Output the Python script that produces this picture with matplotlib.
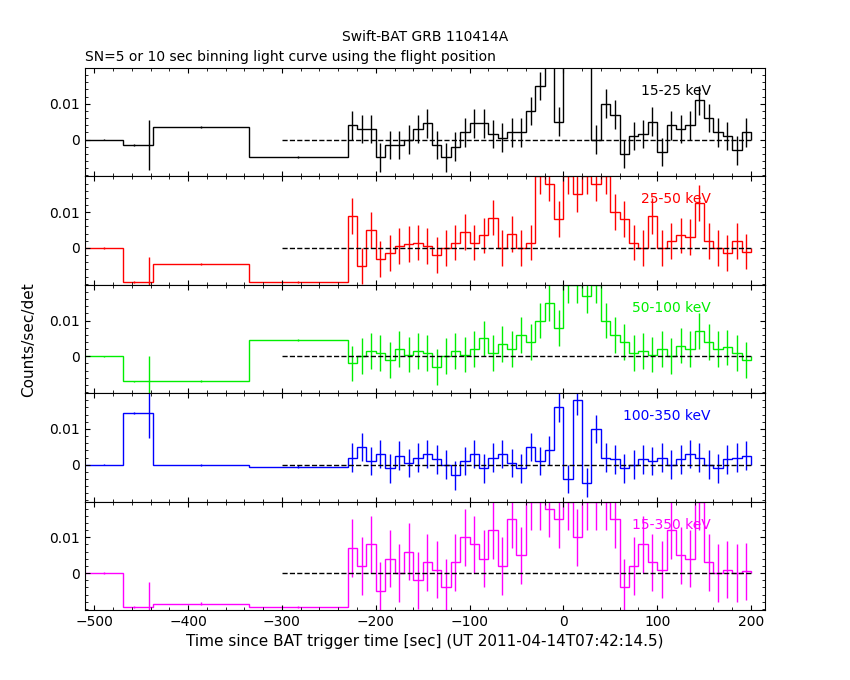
import numpy as np
import matplotlib
matplotlib.use("Agg")
import matplotlib.pyplot as plt

# bin edges: coarse pre-trigger bins, then 10 s bins
early_edges = [-510, -470, -445, -438, -335, -230]
fine_edges = list(range(-230, 201, 10))
edges = np.array(early_edges[:-1] + fine_edges)

band_labels = ["15-25 keV", "25-50 keV", "50-100 keV", "100-350 keV", "15-350 keV"]
band_colors = ["black", "red", "#00ee00", "blue", "magenta"]

rate_15_25 = [0.0, -0.0015, -0.0015, 0.0035, -0.0048,
              0.004, 0.003, 0.003, -0.005, -0.0015, -0.0015, 0.0, 0.003, 0.0045, -0.0015,
              -0.005, -0.002, 0.002, 0.0045, 0.0045, 0.0015, 0.0005, 0.002, 0.002, 0.008,
              0.015, 0.025, 0.005, 0.025, 0.025, 0.025, 0.0, 0.01, 0.007, -0.004,
              0.001, 0.0015, 0.005, -0.0035, 0.004, 0.003, 0.004, 0.011, 0.006, 0.002,
              0.001, -0.003, 0.002]
rate_25_50 = [0.0, -0.0095, -0.0095, -0.0045, -0.0095,
              0.009, -0.005, 0.005, -0.003, -0.0015, 0.0005, 0.001, 0.0015, 0.0005, -0.002,
              0.0, 0.0015, 0.0045, 0.0015, 0.0035, 0.0085, 0.0, 0.004, 0.0, 0.0015,
              0.02, 0.018, 0.008, 0.02, 0.015, 0.02, 0.018, 0.02, 0.01, 0.008,
              0.0015, 0.0, 0.009, 0.0, 0.002, 0.0035, 0.003, 0.0125, 0.002, 0.0,
              -0.0015, 0.002, -0.001]
rate_50_100 = [0.0, -0.007, -0.007, -0.007, 0.0045,
               -0.002, 0.0, 0.0015, 0.001, -0.001, 0.002, 0.0005, 0.0015, 0.001, -0.003,
               0.0, 0.0015, 0.0005, 0.002, 0.005, 0.001, 0.0035, 0.002, 0.006, 0.004,
               0.01, 0.015, 0.008, 0.02, 0.02, 0.017, 0.02, 0.01, 0.006, 0.004,
               0.001, 0.0015, 0.0005, 0.002, 0.0, 0.003, 0.002, 0.007, 0.004, 0.002,
               0.0025, 0.001, -0.001]
rate_100_350 = [0.0, 0.0145, 0.0145, 0.0, -0.0005,
                0.002, 0.005, 0.001, 0.003, -0.001, 0.0025, 0.0005, 0.002, 0.003, 0.0015,
                0.0, -0.003, 0.001, 0.003, -0.001, 0.002, 0.003, 0.0005, -0.001, 0.005,
                0.001, 0.004, 0.016, -0.004, 0.018, -0.005, 0.01, 0.002, 0.0015, -0.001,
                0.0, 0.0015, 0.001, 0.002, 0.0, 0.0015, 0.003, 0.002, 0.0, -0.001,
                0.0015, 0.002, 0.0025]
rate_15_350 = [0.0, -0.0095, -0.0095, -0.0085, -0.0095,
               0.007, 0.002, 0.008, -0.005, 0.004, 0.0, 0.006, -0.002, 0.003, 0.001,
               -0.004, 0.003, 0.01, 0.008, 0.004, 0.012, 0.002, 0.015, 0.005, 0.02,
               0.02, 0.018, 0.015, 0.02, 0.01, 0.02, 0.02, 0.02, 0.015, -0.004,
               0.002, 0.008, 0.003, 0.001, 0.012, 0.005, 0.004, 0.02, 0.003, 0.0,
               0.001, 0.0, 0.0005]
rates = [rate_15_25, rate_25_50, rate_50_100, rate_100_350, rate_15_350]
err_size = [0.004, 0.005, 0.005, 0.004, 0.008]

fig, axes = plt.subplots(5, 1, sharex=True, figsize=(8.5, 6.8), dpi=100)
fig.subplots_adjust(left=0.1, right=0.9, top=0.9, bottom=0.103, hspace=0)

centers = 0.5 * (edges[:-1] + edges[1:])
for ax, r, lab, col, e in zip(axes, rates, band_labels, band_colors, err_size):
    r = np.array(r)
    ax.stairs(r, edges, color=col, lw=1)
    errs = np.full(len(r), e)
    errs[:5] = [0.0002, 0.0002, 0.007, 0.0003, 0.0003]
    ax.errorbar(centers, r, yerr=errs, fmt="none", ecolor=col, elinewidth=1)
    ax.plot([-300, 200], [0, 0], "k--", lw=1)
    ax.set_xlim(-510, 215)
    ax.set_ylim(-0.0103, 0.02)
    ax.set_yticks([0, 0.01])
    ax.set_yticklabels(["0", "0.01"])
    ax.minorticks_on()
    ax.tick_params(which="both", direction="in", top=True, right=True, labelsize=10)
    ax.text(0.92, 0.75, lab, color=col, transform=ax.transAxes, ha="right", fontsize=10)

axes[-1].set_xticks([-500, -400, -300, -200, -100, 0, 100, 200])
axes[-1].set_xlabel("Time since BAT trigger time [sec] (UT 2011-04-14T07:42:14.5)", fontsize=11)
fig.text(0.025, 0.5, "Counts/sec/det", rotation=90, va="center", fontsize=11)
fig.text(0.5, 0.94, "Swift-BAT GRB 110414A", ha="center", fontsize=10)
fig.text(0.1, 0.91, "SN=5 or 10 sec binning light curve using the flight position", fontsize=10)

fig.savefig("out.png")
